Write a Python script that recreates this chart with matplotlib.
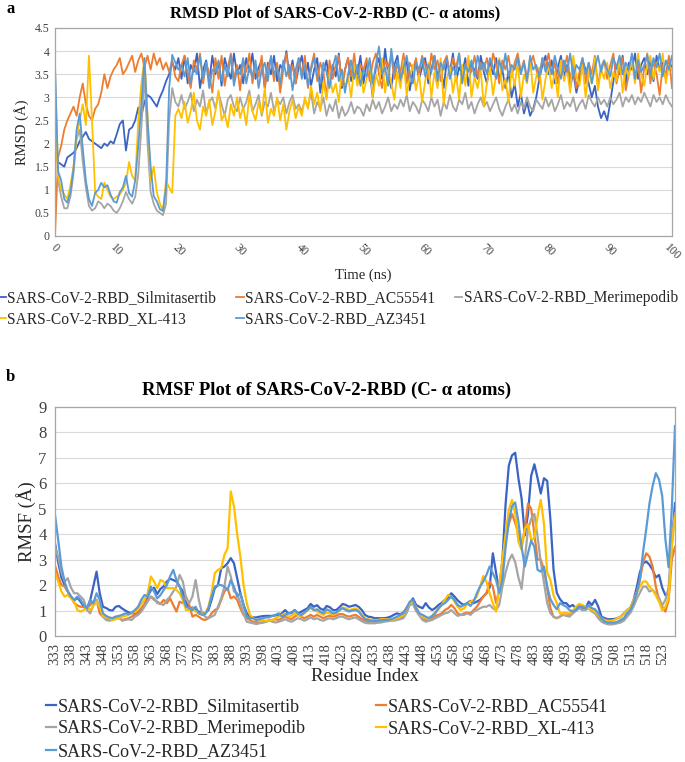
import numpy as np
import matplotlib
matplotlib.use("Agg")
import matplotlib.pyplot as plt
from matplotlib.ticker import FuncFormatter, MultipleLocator

plt.rcParams['font.family'] = ['Liberation Serif', 'DejaVu Serif']

# ---------------- data: RMSD (time in ns, every 0.5 ns) ----------------
time_ns = np.arange(0, 100.5, 0.5)

rmsd_silmitasertib = [
    2.0, 1.6, 1.55, 1.5, 1.7, 1.75, 1.8, 1.9, 2.05, 2.15, 2.25, 2.1, 2.05, 2.0, 1.95, 1.9, 2.0, 1.95, 2.05, 2.0,
    2.2, 2.42, 2.5, 1.85, 2.3, 2.35, 2.5, 2.78, 2.6, 2.9, 3.05, 3.0, 2.9, 2.8, 3.0, 3.15, 3.35, 3.5, 3.75, 3.6,
    3.85, 3.4, 3.9, 3.3, 3.7, 3.55, 3.95, 3.2, 3.6, 3.8, 3.35, 3.9, 3.5, 3.75, 3.25, 3.85, 3.6, 3.4, 3.95, 3.5,
    3.7, 3.3, 3.85, 3.55, 3.95, 3.4, 3.65, 3.8, 3.2, 3.75, 3.5, 3.9, 3.35, 3.7, 3.6, 4.0, 3.45, 3.8, 3.3, 3.65,
    3.9, 3.4, 3.75, 3.25, 3.6, 3.85, 3.1, 3.55, 3.8, 3.3, 3.7, 3.45, 3.95, 3.2, 3.6, 3.85, 3.35, 3.7, 3.5, 3.9,
    3.3, 3.75, 3.55, 3.0, 3.65, 3.85, 3.4, 4.05, 3.5, 3.2, 3.7, 3.9, 3.35, 3.6, 3.8, 3.15, 3.55, 3.75, 3.4, 3.65,
    3.85, 3.3, 3.6, 3.9, 3.45, 3.7, 3.2, 3.8, 3.55, 3.95, 3.35, 3.65, 3.5, 3.85, 3.25, 3.7, 3.6, 3.4, 3.9, 3.55,
    3.3, 3.75, 3.5, 3.85, 3.4, 3.6, 3.2, 3.55, 3.0, 3.3, 2.8, 3.1, 2.65, 2.9, 2.6, 2.75, 3.0, 3.4, 3.7, 3.9,
    3.5, 3.8, 3.3, 3.65, 3.9, 3.45, 3.7, 3.2, 3.55, 3.1, 3.4, 3.8, 3.6, 3.3, 3.0, 3.25, 2.8, 2.55, 2.7, 2.5,
    2.9, 3.35, 3.7, 3.5, 3.9, 3.3, 3.75, 3.6, 3.95, 3.4, 3.7, 3.85, 3.5, 3.8, 3.35, 3.9, 3.6, 3.75, 3.45, 3.85, 3.6,
]
rmsd_ac55541 = [
    0.0, 1.7, 1.95, 2.3, 2.5, 2.65, 2.8, 2.6, 3.0, 3.3, 2.85, 2.6, 2.5, 2.75, 2.85, 3.1, 3.5, 3.2, 3.45, 3.6,
    3.7, 3.85, 3.5, 3.6, 3.75, 3.9, 3.55, 3.8, 3.95, 3.65, 3.9, 3.6, 3.95, 3.7, 3.85, 3.6, 3.75, 3.55, 3.8, 3.45,
    3.35, 3.7, 3.9, 3.5, 3.2, 3.8, 3.6, 3.95, 3.3, 3.75, 3.5, 3.1, 3.85, 3.4, 3.9, 3.25, 3.65, 3.95, 3.4, 3.7,
    3.15, 3.8, 3.55, 3.95, 3.3, 3.7, 3.45, 3.9, 3.2, 3.65, 3.85, 3.35, 3.75, 3.1, 3.6, 3.95, 3.4, 3.7, 3.3, 3.85,
    3.5, 3.9, 3.2, 3.65, 3.95, 3.35, 3.75, 3.55, 3.0, 3.8, 3.4, 3.7, 3.9, 3.25, 3.6, 3.85, 3.45, 3.95, 3.3, 3.7,
    3.6, 3.85, 3.35, 3.75, 3.95, 3.5, 3.2, 3.8, 3.65, 3.9, 3.4, 3.7, 3.55, 3.95, 3.3, 3.75, 3.6, 3.85, 3.45, 3.9,
    3.7, 3.4, 3.95, 3.6, 3.8, 3.35, 3.75, 3.9, 3.5, 3.85, 3.65, 3.95, 3.4, 3.7, 3.8, 3.55, 3.9, 3.45, 3.75, 3.6,
    3.85, 3.5, 3.95, 3.7, 3.3, 3.8, 3.6, 3.9, 3.45, 3.75, 3.95, 3.55, 3.8, 3.4, 3.7, 3.9, 3.6, 3.35, 3.85, 3.65,
    3.95, 3.5, 3.75, 3.3, 3.8, 3.6, 3.9, 3.4, 3.7, 3.2, 3.55, 3.85, 3.3, 3.75, 3.5, 3.9, 3.25, 3.65, 3.8, 3.4,
    3.7, 3.95, 3.3, 3.6, 3.85, 3.15, 3.5, 3.9, 3.35, 3.75, 3.1, 3.65, 3.95, 3.3, 3.8, 3.5, 3.05, 3.7, 3.4, 3.9, 3.2,
]
rmsd_merimepodib = [
    3.75, 1.2, 0.85, 0.6, 0.6, 0.85, 1.35, 2.1, 2.3, 1.6, 1.05, 0.65, 0.55, 0.6, 0.75, 0.7, 0.6, 0.7, 0.65, 0.55,
    0.5, 0.6, 0.75, 0.95, 0.8, 0.7, 0.85, 1.35, 2.35, 3.5, 2.0, 0.95, 0.7, 0.55, 0.5, 0.45, 0.7, 2.5, 3.2, 2.9,
    2.8, 3.05, 2.75, 2.9, 3.1, 2.7, 2.95, 2.8, 3.15, 2.65, 2.9, 3.0, 2.75, 3.1, 2.85, 2.6, 2.95, 3.05, 2.8, 2.7,
    3.0, 2.75, 2.9, 3.15, 2.7, 2.85, 3.05, 2.6, 2.9, 2.8, 3.1, 2.7, 2.95, 2.85, 3.0, 2.65, 2.9, 3.05, 2.75, 2.85,
    2.7, 2.95, 2.8, 3.1, 2.65, 2.9, 2.75, 3.0, 2.6, 2.85, 2.7, 2.95, 2.55, 2.8, 2.6, 2.7, 2.9, 2.65, 2.8, 2.75,
    2.6, 2.85, 2.7, 2.95, 2.75, 2.9, 2.65, 2.8, 3.0, 2.7, 2.85, 2.75, 2.95, 2.8, 3.05, 2.7, 2.9, 2.8, 2.65, 2.95,
    2.85, 2.7, 3.0, 2.8, 2.95, 2.6, 2.9, 2.75, 3.05, 2.8, 2.7, 2.95, 2.85, 3.1, 2.75, 2.9, 2.65, 2.85, 3.0, 2.8,
    2.9, 2.7, 2.85, 3.0, 2.75, 2.6, 2.8, 2.95, 2.7, 2.85, 2.65, 2.9, 2.75, 3.0, 2.8, 2.7, 2.95, 2.85, 2.75, 3.0,
    2.8, 2.95, 2.7, 2.85, 3.05, 2.75, 2.9, 2.8, 3.0, 2.7, 2.85, 2.95, 2.75, 3.05, 2.9, 2.8, 3.0, 2.85, 2.95, 2.8,
    3.0, 2.85, 2.95, 3.1, 2.8, 3.0, 2.9, 3.05, 2.85, 3.0, 2.9, 3.1, 2.95, 2.8, 3.05, 2.9, 3.0, 2.85, 3.05, 2.9, 2.8,
]
rmsd_xl413 = [
    2.4, 1.3, 1.0, 0.9, 0.8, 1.1, 1.5, 2.15, 2.5, 2.85, 2.4, 3.9, 2.5, 0.95, 0.85, 0.8, 1.15, 1.0, 0.85, 0.8,
    0.85, 0.9, 1.0, 1.15, 1.6, 1.3, 1.2, 2.5, 3.3, 3.85, 2.6, 1.2, 1.5, 0.95, 0.7, 0.55, 1.2, 1.05, 0.93, 2.6,
    2.75, 2.55, 2.9, 2.45, 2.7, 3.1, 2.5, 2.3, 2.8, 2.6, 2.95, 2.4, 2.7, 3.15, 2.5, 2.65, 2.35, 2.85, 2.6, 3.0,
    2.55, 2.8, 2.4, 3.05, 2.7, 2.5, 2.9, 2.65, 3.2, 2.45, 2.75, 2.6, 3.0, 2.5, 2.85, 2.3, 2.7, 2.95, 2.55, 2.8,
    2.6, 3.0, 2.75, 3.25, 2.85, 3.1, 2.7, 3.35, 2.95, 3.5, 3.1, 3.3, 2.9, 3.6, 3.2, 3.45, 3.0, 3.7, 3.25, 3.55,
    3.1, 3.4, 3.75, 3.0, 3.5, 3.25, 3.85, 3.1, 3.6, 3.3, 2.95, 3.55, 3.2, 3.8, 3.05, 3.45, 3.7, 3.15, 3.5, 2.9,
    3.35, 3.75, 3.0, 3.55, 3.2, 3.85, 2.85, 3.4, 3.65, 3.1, 3.5, 2.95, 3.7, 3.25, 3.9, 3.0, 3.45, 3.2, 3.6, 2.8,
    3.3, 3.65, 3.05, 3.5, 3.85, 3.15, 3.4, 2.9, 3.6, 3.25, 3.75, 3.0, 3.5, 3.3, 3.85, 3.1, 3.45, 3.65, 2.95, 3.4,
    3.7, 3.2, 3.55, 3.0, 3.8, 3.35, 3.6, 3.1, 3.9, 3.45, 3.25, 3.7, 3.0, 3.55, 3.3, 3.85, 3.15, 3.6, 3.4, 3.75,
    3.2, 3.55, 3.35, 3.9, 3.1, 3.65, 3.45, 3.8, 3.3, 3.95, 3.5, 3.25, 3.7, 3.9, 3.4, 3.75, 3.55, 3.95, 3.3, 3.7, 3.6,
]
rmsd_az3451 = [
    3.6, 1.4, 1.2, 0.8, 0.72, 0.95, 1.45, 2.3, 2.65, 1.9, 1.2, 0.8, 0.65, 0.93, 1.0, 1.15, 1.05, 1.1, 0.9, 0.75,
    0.72, 0.95, 1.05, 1.3, 0.93, 0.85, 1.2, 1.95, 2.85, 3.85, 2.5, 1.5, 0.86, 0.75, 0.58, 0.54, 1.07, 3.2, 3.92, 3.75,
    3.6, 3.7, 3.45, 3.85, 3.3, 3.65, 3.5, 3.9, 3.4, 3.75, 3.2, 3.6, 3.55, 3.8, 3.35, 3.7, 3.45, 3.9, 3.25, 3.6,
    3.5, 3.85, 3.3, 3.65, 3.45, 3.8, 3.2, 3.6, 3.75, 3.35, 3.9, 3.5, 3.65, 3.3, 3.8, 3.45, 3.7, 3.15, 3.6, 3.85,
    3.4, 3.7, 3.25, 3.6, 3.85, 3.45, 3.3, 3.75, 3.55, 3.2, 3.65, 3.9, 3.35, 3.6, 3.1, 3.5, 3.8, 3.4, 3.7, 3.25,
    3.6, 3.45, 3.85, 3.3, 3.7, 4.1, 3.5, 3.65, 3.25, 4.05, 3.55, 3.8, 3.4, 3.65, 3.9, 3.5, 3.3, 3.75, 3.6, 3.85,
    3.45, 3.7, 3.55, 3.9, 3.35, 3.75, 3.6, 3.85, 3.4, 3.65, 3.5, 3.95, 3.3, 3.7, 3.55, 3.8, 3.45, 3.9, 3.6, 3.75,
    3.5, 3.85, 3.65, 3.4, 3.8, 3.55, 3.95, 3.45, 3.7, 3.6, 3.85, 3.5, 3.75, 3.35, 3.9, 3.6, 3.7, 3.45, 3.85, 3.55,
    3.75, 3.5, 3.9, 3.6, 3.4, 3.8, 3.55, 3.95, 3.45, 3.7, 3.6, 3.85, 3.5, 3.75, 3.3, 3.65, 3.9, 3.55, 3.8, 3.6,
    3.45, 3.85, 3.65, 3.9, 3.5, 3.75, 3.6, 3.95, 3.4, 3.8, 3.55, 3.7, 3.9, 3.5, 3.85, 3.65, 3.95, 3.45, 3.8, 3.6, 3.9,
]

# ---------------- data: RMSF (per residue 333-527) ----------------
residues = list(range(333, 528))
residue_tick_labels = [str(r) for r in range(333, 524, 5)]

rmsf_silmitasertib = [
    3.65, 2.9, 2.3, 2.0, 1.75, 1.55, 1.4, 1.5, 1.35, 1.15,
    1.05, 1.4, 1.95, 2.53, 1.68, 1.15, 1.1, 1.02, 1.0, 1.15,
    1.18, 1.08, 1.0, 0.93, 0.9, 0.87, 0.9, 1.02, 1.22, 1.55,
    1.8, 1.9, 1.65, 1.85, 1.95, 2.14, 2.25, 2.2, 2.14, 1.94,
    1.75, 1.29, 1.09, 1.12, 1.05, 0.96, 0.9, 0.9, 1.02, 1.42,
    1.88, 2.0, 2.66, 2.73, 2.86, 3.06, 2.86, 2.27, 1.68, 1.22,
    0.89, 0.76, 0.73, 0.73, 0.76, 0.78, 0.79, 0.79, 0.79, 0.81,
    0.83, 0.89, 1.02, 0.89, 0.92, 1.02, 0.89, 0.95, 1.02, 1.09,
    1.26, 1.15, 1.21, 1.08, 1.02, 1.18, 1.13, 1.02, 1.02, 1.13,
    1.26, 1.22, 1.15, 1.18, 1.22, 1.15, 1.02, 0.83, 0.76, 0.74,
    0.70, 0.70, 0.70, 0.70, 0.72, 0.76, 0.83, 0.89, 0.85, 0.92,
    1.1, 1.29, 1.48, 1.22, 1.15, 1.09, 1.29, 1.12, 1.02, 1.1,
    1.22, 1.3, 1.42, 1.5, 1.68, 1.55, 1.4, 1.29, 1.22, 1.3,
    1.38, 1.29, 1.35, 1.42, 1.55, 1.68, 1.9, 3.25, 2.5, 1.75,
    3.0, 5.2, 6.7, 7.1, 7.2, 6.2, 5.4, 3.95, 4.8, 6.3,
    6.75, 6.2, 5.6, 6.2, 6.1, 4.6, 2.6, 1.7, 1.45, 1.3,
    1.29, 1.15, 1.22, 1.09, 1.18, 1.02, 1.09, 1.35, 1.22, 1.42,
    1.15, 0.76, 0.70, 0.66, 0.66, 0.67, 0.70, 0.76, 0.89, 1.02,
    1.1, 1.4, 1.9, 2.5, 2.85, 2.93, 2.8, 2.6, 2.3, 2.4,
    1.9, 1.6, 1.65, 3.6, 5.22,
]
rmsf_ac55541 = [
    2.77, 2.34, 2.0, 1.95, 1.75, 1.55, 1.3, 1.2, 1.15, 1.15,
    1.09, 1.22, 1.35, 1.42, 0.89, 0.76, 0.70, 0.63, 0.70, 0.76,
    0.70, 0.63, 0.66, 0.70, 0.76, 0.83, 0.96, 1.09, 1.26, 1.42,
    1.55, 1.42, 1.35, 1.26, 1.42, 1.29, 1.48, 1.22, 0.96, 1.35,
    1.29, 1.55, 1.22, 0.76, 0.83, 0.76, 0.66, 0.63, 0.70, 0.89,
    1.02, 1.09, 1.42, 1.75, 1.88, 1.48, 1.55, 1.42, 1.09, 0.83,
    0.70, 0.63, 0.56, 0.56, 0.53, 0.53, 0.56, 0.60, 0.63, 0.66,
    0.63, 0.70, 0.76, 0.70, 0.66, 0.76, 0.83, 0.76, 0.70, 0.76,
    0.83, 0.76, 0.83, 0.76, 0.70, 0.76, 0.80, 0.76, 0.80, 0.86,
    0.86, 0.80, 0.76, 0.80, 0.83, 0.76, 0.66, 0.60, 0.56, 0.56,
    0.56, 0.58, 0.60, 0.60, 0.62, 0.63, 0.66, 0.70, 0.72, 0.76,
    1.0, 1.3, 1.29, 1.0, 0.83, 0.70, 0.63, 0.60, 0.70, 0.79,
    0.83, 0.89, 1.02, 1.09, 1.22, 1.09, 0.89, 0.83, 0.89, 0.92,
    0.89, 1.02, 1.15, 1.35, 1.55, 1.68, 2.14, 1.94, 1.3, 1.8,
    3.0, 3.8, 4.4, 4.8, 4.44, 4.04, 3.55, 4.2, 5.2, 5.0,
    4.0, 3.0, 3.0, 2.6, 1.9, 1.1, 0.75, 0.70, 0.76, 0.89,
    0.89, 0.83, 0.89, 1.02, 1.09, 1.18, 1.09, 1.15, 1.02, 0.89,
    0.76, 0.63, 0.53, 0.50, 0.46, 0.50, 0.53, 0.56, 0.63, 0.79,
    1.0, 1.3, 1.7, 2.2, 2.9, 3.25, 3.12, 2.73, 1.94, 1.42,
    1.15, 0.96, 1.4, 3.0, 3.5,
]
rmsf_merimepodib = [
    3.5, 3.1, 2.5, 2.14, 2.27, 1.9, 1.68, 1.68, 1.55, 1.42,
    1.02, 0.89, 1.22, 1.42, 1.15, 0.76, 0.63, 0.60, 0.63, 0.70,
    0.76, 0.60, 0.63, 0.66, 0.63, 0.76, 0.83, 0.96, 1.15, 1.35,
    1.55, 1.48, 1.29, 1.26, 1.22, 1.42, 1.55, 1.75, 1.94, 2.4,
    2.14, 1.48, 1.29, 1.55, 2.2, 1.42, 0.89, 0.76, 0.70, 0.76,
    0.83, 1.15, 1.48, 1.94, 2.73, 2.34, 1.75, 1.68, 1.29, 0.89,
    0.56, 0.53, 0.50, 0.47, 0.50, 0.53, 0.56, 0.63, 0.56, 0.53,
    0.56, 0.60, 0.66, 0.60, 0.56, 0.63, 0.70, 0.66, 0.60, 0.66,
    0.73, 0.66, 0.70, 0.63, 0.60, 0.66, 0.70, 0.66, 0.70, 0.76,
    0.76, 0.70, 0.66, 0.70, 0.73, 0.66, 0.58, 0.52, 0.50, 0.50,
    0.50, 0.52, 0.53, 0.56, 0.58, 0.60, 0.60, 0.63, 0.66, 0.70,
    0.9, 1.22, 1.26, 1.0, 0.8, 0.63, 0.56, 0.60, 0.63, 0.70,
    0.76, 0.83, 0.89, 0.92, 1.02, 0.89, 0.79, 0.83, 0.83, 0.89,
    0.83, 0.96, 1.02, 1.09, 1.15, 1.15, 1.22, 1.09, 1.02, 1.22,
    1.94, 2.5, 2.95, 3.2, 2.9, 2.3, 1.85, 3.0, 4.2, 4.6,
    4.8, 3.9, 2.9, 2.1, 1.3, 0.9, 0.76, 0.70, 0.76, 0.83,
    0.79, 0.76, 0.89, 0.99, 1.09, 1.02, 1.02, 1.09, 0.96, 0.89,
    0.70, 0.56, 0.50, 0.46, 0.46, 0.47, 0.50, 0.53, 0.60, 0.76,
    0.9, 1.15, 1.45, 1.7, 1.94, 1.94, 1.75, 1.81, 1.68, 1.5,
    1.2, 1.42, 1.9, 3.8, 4.83,
]
rmsf_xl413 = [
    2.47, 2.14, 1.75, 1.55, 1.61, 1.48, 1.35, 1.02, 0.96, 1.02,
    1.15, 1.02, 1.18, 1.35, 1.15, 0.79, 0.73, 0.70, 0.63, 0.66,
    0.70, 0.76, 0.79, 0.83, 0.89, 0.96, 1.09, 1.26, 1.42, 1.68,
    2.34, 2.14, 1.88, 2.2, 2.14, 1.88, 1.88, 1.88, 1.81, 1.68,
    1.42, 1.02, 1.02, 1.09, 0.96, 0.89, 0.86, 0.89, 1.15, 1.68,
    2.47, 2.6, 2.66, 3.19, 3.45, 5.68, 5.1, 4.0, 3.12, 2.0,
    1.29, 0.83, 0.70, 0.63, 0.60, 0.63, 0.60, 0.60, 0.63, 0.70,
    0.76, 0.83, 0.89, 0.76, 0.79, 0.89, 0.83, 0.79, 0.89, 1.02,
    1.09, 1.02, 0.96, 0.89, 0.83, 0.92, 0.89, 0.83, 0.89, 1.02,
    1.12, 1.09, 1.02, 1.05, 1.09, 1.02, 0.83, 0.70, 0.66, 0.63,
    0.63, 0.63, 0.66, 0.66, 0.66, 0.63, 0.66, 0.70, 0.76, 0.83,
    1.1, 1.29, 1.35, 1.15, 0.89, 0.76, 0.70, 0.70, 0.79, 0.96,
    1.05, 1.22, 1.42, 1.61, 1.55, 1.35, 1.15, 1.02, 1.09, 1.26,
    1.35, 1.42, 1.55, 1.94, 2.36, 2.14, 1.68, 1.29, 0.96, 1.94,
    3.0, 4.0, 4.96, 5.35, 4.8, 3.7, 3.39, 4.2, 4.4, 3.78,
    3.85, 4.7, 5.35, 4.4, 2.5, 2.2, 1.6, 1.3, 0.89, 0.89,
    0.89, 0.89, 0.99, 1.15, 1.26, 1.22, 1.15, 1.09, 1.02, 0.96,
    0.83, 0.70, 0.63, 0.60, 0.60, 0.63, 0.70, 0.76, 0.89, 1.02,
    1.1, 1.4, 1.7, 1.94, 2.14, 2.14, 1.94, 1.8, 1.6, 1.35,
    1.0, 1.15, 1.5, 3.5, 4.7,
]
rmsf_az3451 = [
    4.76, 3.78, 2.73, 2.14, 1.75, 1.55, 1.42, 1.55, 1.42, 1.22,
    1.09, 1.42, 1.29, 1.68, 1.42, 0.89, 0.79, 0.73, 0.70, 0.76,
    0.79, 0.83, 0.89, 0.86, 0.92, 1.02, 1.15, 1.42, 1.61, 1.55,
    1.94, 1.75, 1.48, 1.61, 1.81, 2.0, 2.34, 2.6, 2.2, 1.94,
    1.55, 1.15, 1.09, 1.02, 1.15, 0.89, 0.83, 0.86, 1.09, 1.55,
    1.94, 2.0, 2.0, 1.94, 1.81, 2.2, 1.94, 1.55, 1.68, 1.22,
    0.76, 0.70, 0.70, 0.63, 0.66, 0.70, 0.73, 0.73, 0.79, 0.83,
    0.89, 0.76, 0.83, 0.89, 0.89, 1.02, 0.89, 0.83, 0.92, 1.02,
    1.15, 1.02, 1.05, 0.96, 0.89, 1.05, 0.99, 0.89, 0.92, 1.02,
    1.09, 1.02, 0.96, 1.0, 1.02, 0.96, 0.80, 0.66, 0.63, 0.60,
    0.60, 0.60, 0.62, 0.63, 0.63, 0.65, 0.70, 0.76, 0.83, 0.89,
    1.1, 1.35, 1.42, 1.09, 0.89, 0.83, 0.76, 0.70, 0.79, 0.89,
    1.09, 1.22, 1.29, 1.42, 1.55, 1.42, 1.22, 1.15, 1.22, 1.29,
    1.18, 1.35, 1.68, 1.94, 2.14, 2.4, 2.73, 2.47, 2.2, 1.7,
    2.2, 3.5, 4.5, 5.1, 5.25, 4.5, 3.5, 2.73, 3.25, 3.75,
    3.5, 2.6, 2.53, 2.73, 1.94, 1.45, 1.22, 1.05, 1.29, 1.22,
    1.15, 1.02, 0.96, 1.02, 1.15, 1.15, 1.09, 1.22, 1.09, 1.05,
    0.89, 0.70, 0.56, 0.53, 0.53, 0.53, 0.56, 0.63, 0.70, 0.89,
    1.0, 1.3, 1.68, 2.2, 3.3, 4.2, 5.2, 5.9, 6.4, 6.15,
    5.5, 3.8, 2.7, 5.0, 8.25,
]

series_names = [
    "SARS-CoV-2-RBD_Silmitasertib",
    "SARS-CoV-2-RBD_AC55541",
    "SARS-CoV-2-RBD_Merimepodib",
    "SARS-CoV-2-RBD_XL-413",
    "SARS-CoV-2-RBD_AZ3451",
]
series_colors = ["#3A63C4", "#ED7D31", "#A5A5A5", "#FFC000", "#5B9BD5"]

rmsd_all = [rmsd_silmitasertib, rmsd_ac55541, rmsd_merimepodib, rmsd_xl413, rmsd_az3451]
rmsf_all = [rmsf_silmitasertib, rmsf_ac55541, rmsf_merimepodib, rmsf_xl413, rmsf_az3451]
for s in rmsd_all:
    assert len(s) == len(time_ns), len(s)
for s in rmsf_all:
    assert len(s) == len(residues), len(s)

# ---------------- figure ----------------
W, H = 685, 762
fig = plt.figure(figsize=(W / 100, H / 100), dpi=100)

def fx(px):
    return px / W

def fy(py):
    return 1 - py / H

text_col = "#262626"
tick_col = "#404040"
grid_col = "#D9D9D9"
frame_col = "#A6A6A6"
fmt = FuncFormatter(lambda v, p: "%g" % v)

# ---- panel a: RMSD ----
ax1 = fig.add_axes([fx(55), fy(236), fx(672) - fx(55), fy(28) - fy(236)])
lines1 = []
for vals, name, col in zip(rmsd_all, series_names, series_colors):
    ln, = ax1.plot(time_ns, vals, color=col, lw=1.3, label=name)
    lines1.append(ln)
ax1.set_xlim(0, 100)
ax1.set_ylim(0, 4.5)
ax1.xaxis.set_major_locator(MultipleLocator(10))
ax1.yaxis.set_major_locator(MultipleLocator(0.5))
ax1.yaxis.set_major_formatter(fmt)
ax1.grid(axis='y', color=grid_col, lw=0.8)
ax1.set_axisbelow(True)
for sp in ax1.spines.values():
    sp.set_color(frame_col)
    sp.set_linewidth(0.9)
ax1.tick_params(axis='x', length=0, labelsize=8.5, colors=tick_col, pad=4)
ax1.tick_params(axis='y', length=0, labelsize=8.5, colors=tick_col, pad=4)
for lab in ax1.get_xticklabels():
    lab.set_rotation(-45)
    lab.set_ha('center')
    lab.set_va('top')
ax1.set_xlabel("Time (ns)", fontsize=10.5, color=text_col, labelpad=4)
ax1.set_ylabel("RMSD (Å)", fontsize=10.5, color=text_col, labelpad=4)

fig.text(fx(335), fy(13), "RMSD Plot of SARS-CoV-2-RBD (C- α atoms)", ha='center', va='center',
         fontsize=12, fontweight='bold', color='black')
fig.text(fx(6), fy(9), "a", ha='left', va='center', fontsize=12, fontweight='bold', color='black')

order1 = [0, 3, 1, 4, 2]
leg1 = fig.legend([lines1[i] for i in order1], [series_names[i] for i in order1],
                  loc='upper left', bbox_to_anchor=(fx(-2), fy(290)), ncol=3, frameon=False,
                  fontsize=11.2, handlelength=0.5, handletextpad=0.1, columnspacing=1.25,
                  labelspacing=0.35, borderaxespad=0, borderpad=0)
for t in leg1.get_texts():
    t.set_color(text_col)

# ---- panel b: RMSF ----
ax2 = fig.add_axes([fx(55), fy(636), fx(675) - fx(55), fy(407) - fy(636)])
lines2 = []
for vals, name, col in zip(rmsf_all, series_names, series_colors):
    ln, = ax2.plot(residues, vals, color=col, lw=1.6, label=name)
    lines2.append(ln)
ax2.set_xlim(residues[0], residues[-1])
ax2.set_ylim(0, 9)
ax2.set_xticks([int(s) for s in residue_tick_labels])
ax2.set_xticklabels(residue_tick_labels, rotation=90)
ax2.yaxis.set_major_locator(MultipleLocator(1))
ax2.grid(axis='y', color=grid_col, lw=0.8)
ax2.set_axisbelow(True)
for sp in ax2.spines.values():
    sp.set_color(frame_col)
    sp.set_linewidth(0.9)
ax2.tick_params(axis='x', length=0, labelsize=10.5, colors=tick_col, pad=5)
ax2.tick_params(axis='y', length=0, labelsize=12, colors=tick_col, pad=6)
ax2.set_xlabel("Residue Index", fontsize=13.5, color=text_col, labelpad=2)
ax2.set_ylabel("RMSF (Å)", fontsize=13.5, color=text_col, labelpad=2)

fig.text(fx(327), fy(390), "RMSF Plot of SARS-CoV-2-RBD (C- α atoms)", ha='center', va='center',
         fontsize=13.5, fontweight='bold', color='black')
fig.text(fx(6), fy(377), "b", ha='left', va='center', fontsize=12, fontweight='bold', color='black')

order2 = [0, 2, 4, 1, 3]
leg2 = fig.legend([lines2[i] for i in order2], [series_names[i] for i in order2],
                  loc='upper left', bbox_to_anchor=(fx(46), fy(698)), ncol=2, frameon=False,
                  fontsize=13, handlelength=0.55, handletextpad=0.1, columnspacing=3.9,
                  labelspacing=0.3, borderaxespad=0, borderpad=0)
for t in leg2.get_texts():
    t.set_color(text_col)

fig.savefig("out.png", dpi=100)
